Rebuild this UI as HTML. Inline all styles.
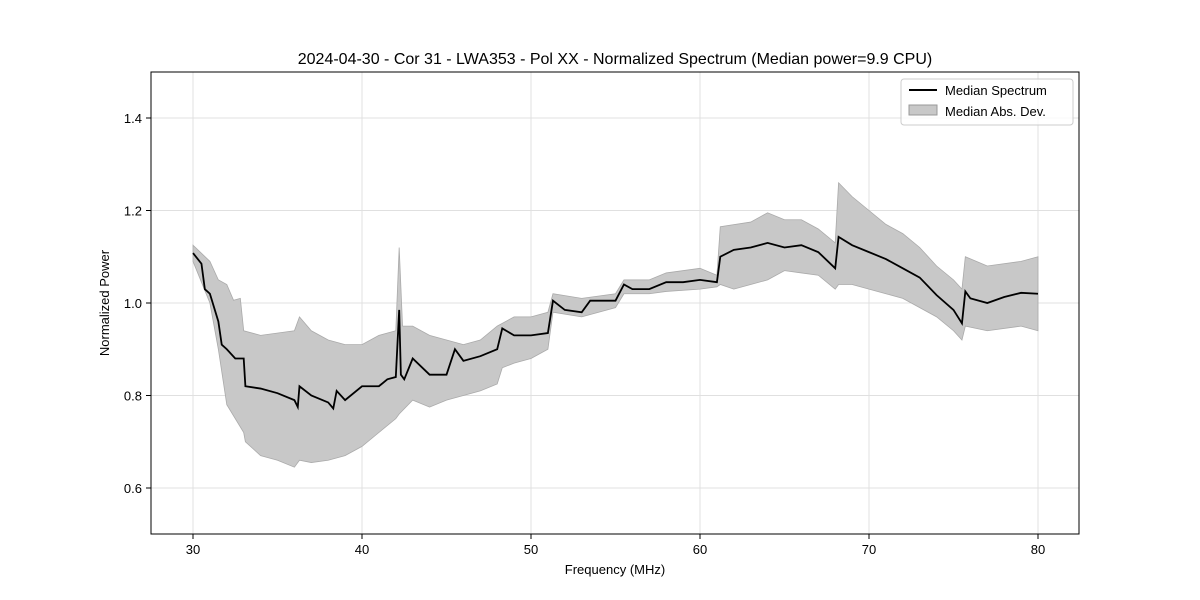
<!DOCTYPE html>
<html><head><meta charset="utf-8"><style>
body{margin:0;background:#fff;}
svg{display:block;font-family:"Liberation Sans","DejaVu Sans",sans-serif;}
</style></head><body>
<svg id="chart" width="1200" height="600">
<text x="615" y="64" font-size="16" text-anchor="middle">2024-04-30 - Cor 31 - LWA353 - Pol XX - Normalized Spectrum (Median power=9.9 CPU)</text>
<g id="grid"></g><g id="band"></g><g id="line"></g><g id="axes"></g>
<rect x="151" y="72" width="928" height="462" fill="none" stroke="#000" stroke-width="1"/>
<text x="615" y="574" font-size="13" text-anchor="middle">Frequency (MHz)</text>
<text x="109" y="303" font-size="13" text-anchor="middle" transform="rotate(-90 109 303)">Normalized Power</text>
<g>
<rect x="901" y="79" width="172" height="46" fill="#fff" fill-opacity="0.8" stroke="#ccc" rx="3"/>
<line x1="909" y1="90" x2="937" y2="90" stroke="#000" stroke-width="2"/>
<text x="945" y="95" font-size="13">Median Spectrum</text>
<rect x="909" y="105" width="28" height="10" fill="#c8c8c8" stroke="#999"/>
<text x="945" y="116" font-size="13">Median Abs. Dev.</text>
</g>
</svg>
<script>
const medF=[30,30.5,30.7,31,31.5,31.7,32,32.5,33,33.1,34,35,36,36.2,36.3,37,38,38.3,38.5,39,40,41,41.5,42,42.2,42.3,42.5,43,44,45,45.5,46,47,48,48.3,49,50,51,51.3,52,53,53.5,55,55.5,56,57,58,59,60,61,61.2,62,63,64,65,66,67,68,68.2,69,70,71,72,73,74,75,75.5,75.7,76,77,78,79,80];
const medV=[1.108,1.085,1.03,1.02,0.96,0.91,0.9,0.88,0.88,0.82,0.815,0.805,0.79,0.775,0.82,0.8,0.785,0.772,0.81,0.79,0.82,0.82,0.835,0.84,0.985,0.845,0.835,0.88,0.845,0.845,0.9,0.875,0.885,0.9,0.945,0.93,0.93,0.935,1.005,0.985,0.98,1.005,1.005,1.04,1.03,1.03,1.045,1.045,1.05,1.045,1.1,1.115,1.12,1.13,1.12,1.125,1.11,1.075,1.143,1.125,1.11,1.095,1.075,1.055,1.017,0.985,0.956,1.025,1.01,1.0,1.013,1.022,1.02];
const upF=[30,31,31.5,32,32.4,32.8,33,34,36,36.3,37,38,39,40,41,42,42.2,42.4,43,44,45,46,47,48,49,50,51,51.3,53,55,55.5,57,58,60,61,61.2,63,64,65,66,67,68,68.2,69,70,71,72,73,74,75,75.5,75.7,77,79,80];
const upV=[1.125,1.09,1.05,1.04,1.006,1.01,0.94,0.93,0.94,0.97,0.94,0.92,0.91,0.91,0.93,0.94,1.12,0.95,0.95,0.93,0.92,0.91,0.92,0.95,0.97,0.97,0.98,1.02,1.01,1.02,1.05,1.05,1.065,1.075,1.06,1.165,1.175,1.195,1.18,1.18,1.16,1.13,1.26,1.23,1.2,1.17,1.15,1.12,1.08,1.05,1.03,1.1,1.08,1.09,1.1];
const loF=[30,31,31.5,32,33,33.1,34,35,36,36.3,37,38,39,40,41,42,42.2,43,44,45,46,47,48,48.3,49,50,51,51.3,53,55,55.5,57,58,60,61,61.2,62,63,64,65,66,67,68,68.2,69,70,71,72,73,74,75,75.5,75.7,77,79,80];
const loV=[1.09,1.0,0.9,0.78,0.72,0.7,0.67,0.66,0.645,0.66,0.655,0.66,0.67,0.69,0.72,0.75,0.76,0.79,0.775,0.79,0.8,0.81,0.825,0.86,0.87,0.88,0.9,0.98,0.97,0.99,1.02,1.02,1.025,1.03,1.035,1.04,1.03,1.04,1.05,1.07,1.065,1.06,1.03,1.04,1.04,1.03,1.02,1.01,0.99,0.97,0.94,0.92,0.95,0.94,0.95,0.94];
const xTicks=[30,40,50,60,70,80];
const yTicks=[0.6,0.8,1.0,1.2,1.4];
const NS='http://www.w3.org/2000/svg';
const X=f=>193+(f-30)*16.9;
const Y=v=>303-(v-1.0)*462.5;
function mk(tag,attrs,parent){const e=document.createElementNS(NS,tag);for(const k in attrs)e.setAttribute(k,attrs[k]);document.getElementById(parent).appendChild(e);return e;}
xTicks.forEach(t=>{
 const g=mk('line',{x1:X(t),x2:X(t),y1:72,y2:534,stroke:'#e0e0e0'},'grid');
 
 
 mk('line',{x1:X(t),x2:X(t),y1:534,y2:539,stroke:'#000'},'axes');
 const tx=mk('text',{x:X(t),y:554,'font-size':13,'text-anchor':'middle'},'axes');
 tx.textContent=t;
 
 
});
yTicks.forEach(t=>{
 const g=mk('line',{x1:151,x2:1079,y1:Y(t),y2:Y(t),stroke:'#e0e0e0'},'grid');
 
 
 mk('line',{x1:146,x2:151,y1:Y(t),y2:Y(t),stroke:'#000'},'axes');
 const tx=mk('text',{x:142,y:Y(t)+5,'font-size':13,'text-anchor':'end'},'axes');
 tx.textContent=t.toFixed(1);
 
 
});
let d='M'+upF.map((f,i)=>X(f)+','+Y(upV[i])).join('L');
for(let i=loF.length-1;i>=0;i--)d+='L'+X(loF[i])+','+Y(loV[i]);
const band=mk('path',{d:d+'Z',fill:'#c8c8c8',stroke:'#aaa','stroke-width':0.8},'band');


const ln=mk('path',{d:'M'+medF.map((f,i)=>X(f)+','+Y(medV[i])).join('L'),fill:'none',stroke:'#000','stroke-width':1.8},'line');


</script>
</body></html>
